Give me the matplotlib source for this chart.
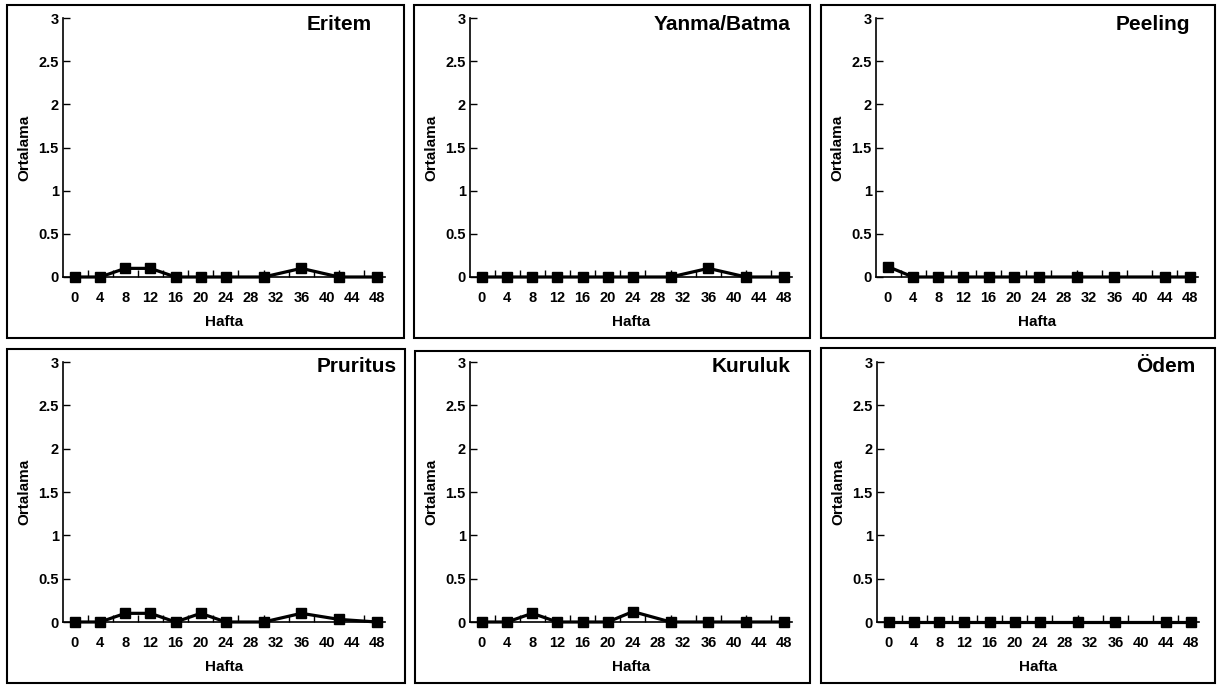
import matplotlib
matplotlib.use("Agg")
import matplotlib.pyplot as plt
from matplotlib.patches import Rectangle

plt.rcParams['font.family'] = ['Liberation Sans', 'DejaVu Sans']
plt.rcParams['font.weight'] = 'bold'

# ---- data ----
tick_labels = [0, 4, 8, 12, 16, 20, 24, 28, 32, 36, 40, 44, 48]
weeks_a = [0, 4, 8, 12, 16, 20, 24, 30, 36, 42, 48]
weeks_b = [0, 4, 8, 12, 16, 20, 24, 30, 36, 44, 48]
eritem = [0, 0, 0.1, 0.1, 0, 0, 0, 0, 0.1, 0, 0]
yanma = [0, 0, 0, 0, 0, 0, 0, 0, 0.1, 0, 0]
peeling = [0.12, 0, 0, 0, 0, 0, 0, 0, 0, 0, 0]
pruritus = [0, 0, 0.1, 0.1, 0, 0.1, 0, 0, 0.1, 0.03, 0]
kuruluk = [0, 0, 0.1, 0, 0, 0, 0.12, 0, 0, 0, 0]
odem = [0, 0, 0, 0, 0, 0, 0, 0, 0, 0, 0]
titles = ["Eritem", "Yanma/Batma", "Peeling", "Pruritus", "Kuruluk", "Ödem"]
series = [(weeks_a, eritem), (weeks_a, yanma), (weeks_b, peeling),
          (weeks_a, pruritus), (weeks_a, kuruluk), (weeks_b, odem)]
y_ticks = [0, 0.5, 1, 1.5, 2, 2.5, 3]
y_tick_labels = ["0", "0.5", "1", "1.5", "2", "2.5", "3"]

W, H = 1220, 686
fig = plt.figure(figsize=(W / 100, H / 100), dpi=100)

def fx(px):
    return px / W

def fy(py):
    return 1 - py / H

# panel frames (pixels): (left, top, right, bottom)
boxes = [(7, 5, 404, 338), (414, 5, 810, 338), (821, 5, 1215, 338),
         (7, 349, 405, 683), (415, 351, 810, 683), (821, 348, 1215, 683)]
# axes (pixels): left, top, bottom
axes_px = [(63, 18, 277), (470, 18, 277), (876, 18, 277),
           (63, 362, 622), (470, 362, 622), (877, 362, 622)]
title_px = [(372, 24), (790, 24), (1190, 24), (397, 367), (790, 367), (1195, 367)]
AX_W = 322

for b in boxes:
    l, t, r, btm = b
    fig.patches.append(Rectangle((fx(l), fy(btm)), fx(r - l), (btm - t) / H,
                                 transform=fig.transFigure, fill=False,
                                 edgecolor='black', linewidth=1.5))

minor_pos = [t + 2 for t in tick_labels[:-1]]

for i, (ax_p, (wx, vals)) in enumerate(zip(axes_px, series)):
    l, t, btm = ax_p
    ax = fig.add_axes([fx(l), fy(btm), fx(AX_W), (btm - t) / H])
    ax.plot(wx, vals, color='black', linewidth=2.3, marker='s',
            markersize=7, clip_on=False, zorder=5)
    ax.set_xlim(-1.9, 49.3)
    ax.set_ylim(0, 3)
    for s in ['top', 'right']:
        ax.spines[s].set_visible(False)
    for s in ['left', 'bottom']:
        ax.spines[s].set_linewidth(1.2)
    ax.set_xticks(tick_labels)
    ax.set_xticklabels([str(v) for v in tick_labels], fontsize=10.5, fontweight='bold')
    ax.set_xticks(minor_pos, minor=True)
    ax.tick_params(axis='x', which='major', length=0, pad=10)
    ax.tick_params(axis='x', which='minor', direction='in', length=5, width=1.0)
    ax.set_yticks(y_ticks)
    ax.set_yticklabels(y_tick_labels, fontsize=10.5, fontweight='bold')
    ax.tick_params(axis='y', direction='in', length=5, width=1.0, pad=3)
    ax.set_xlabel("Hafta", fontsize=11, fontweight='bold', labelpad=7)
    ax.set_ylabel("Ortalama", fontsize=11, fontweight='bold', labelpad=5)
    tx, ty = title_px[i]
    fig.text(fx(tx), fy(ty), titles[i], ha='right', va='center',
             fontsize=15, fontweight='bold')

fig.savefig("out.png", dpi=100)
